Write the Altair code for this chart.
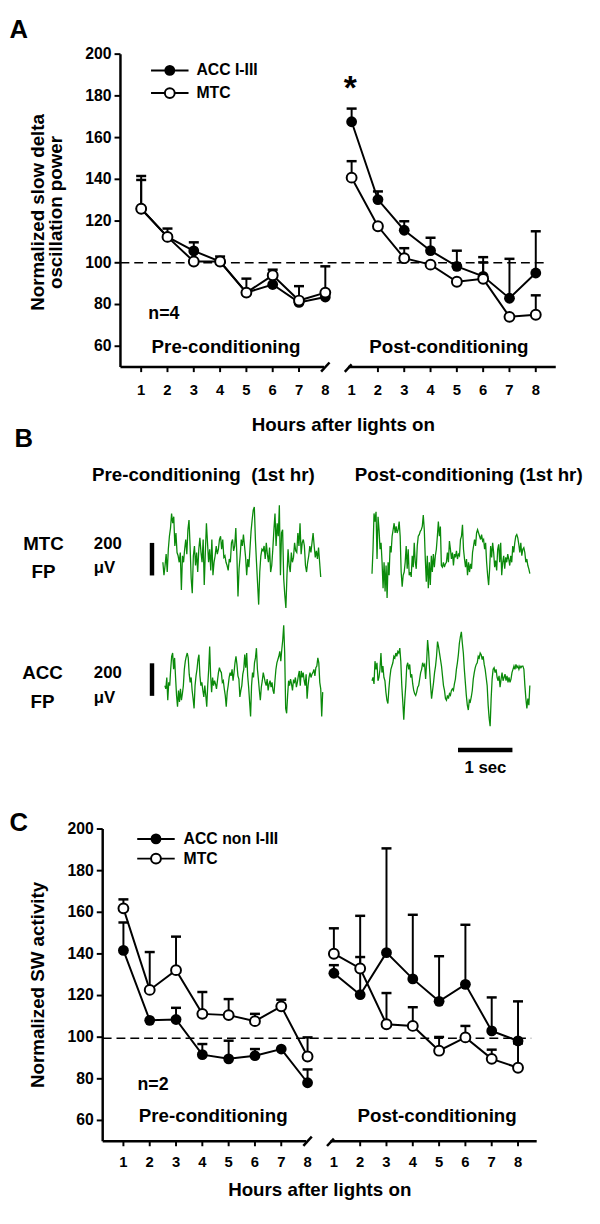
import altair as alt
import pandas as pd

# ---------------- data ----------------
HOURS = [1, 2, 3, 4, 5, 6, 7, 8]
Y_TICKS = [60, 80, 100, 120, 140, 160, 180, 200]
BASELINE = 100

# Panel A: normalized slow delta oscillation power (mean, upper error end)
A_ACC_PRE = [125.9, 112.4, 105.7, 100.6, 85.7, 89.6, 81.0, 83.6]
A_MTC_PRE = [125.9, 112.4, 100.6, 100.6, 85.7, 94.0, 81.9, 85.7]
A_ACC_POST = [167.6, 130.3, 115.6, 105.8, 98.3, 93.5, 83.0, 95.1]
A_MTC_POST = [140.8, 117.5, 102.2, 99.1, 90.9, 92.3, 74.1, 75.1]
A_ACC_PRE_TOP = [141.6, 116.4, 109.8, None, 92.4, None, 88.8, None]
A_MTC_PRE_TOP = [139.7, None, None, 103.0, None, 96.7, None, 98.3]
A_ACC_POST_TOP = [173.9, 134.2, 119.9, 112.0, 105.8, 102.7, 101.9, 115.1]
A_MTC_POST_TOP = [148.7, None, 107.0, None, None, 100.2, None, 84.4]

# Panel C: normalized SW activity
C_ACC_PRE = [141.7, 108.1, 108.5, 91.6, 89.6, 91.1, 94.3, 78.1]
C_MTC_PRE = [161.9, 122.7, 132.2, 111.2, 110.6, 107.7, 114.8, 90.7]
C_ACC_POST = [130.7, 120.4, 140.6, 128.0, 117.2, 125.4, 103.0, 98.2]
C_MTC_POST = [140.1, 133.0, 106.2, 105.4, 93.5, 99.9, 89.6, 85.3]
C_ACC_PRE_TOP = [155.1, None, 114.1, 96.7, 98.3, 94.3, None, 84.5]
C_MTC_PRE_TOP = [166.2, 140.9, 148.3, 121.7, 118.3, 111.2, 118.0, 99.9]
C_ACC_POST_TOP = [134.6, 138.5, 190.7, 158.8, 138.9, 154.0, 119.1, 117.2]
C_MTC_POST_TOP = [152.3, 158.3, 121.2, 114.4, 100.1, 105.4, 94.0, 97.0]

# Panel B: field potential traces (microvolts, equally spaced samples over ~2.9 s)
B_MTC_PRE = [-40, -120, -60, 10, -100, 40, 120, 170, 260, 200, 240, 60, 140, 20, 0, -40, 20, -210, 0, -40,
             40, 100, 10, 160, 220, 60, -140, -230, 0, 60, -60, 20, -100, 40, 110, 20, -40, 100, -180, 20,
             200, 80, -40, 40, -90, 100, -120, -40, 0, 60, 10, 40, 100, 120, 40, 100, -10, 0, -40, -60,
             -90, -20, -40, 80, 100, 30, 60, 170, 0, -250, -80, 0, 100, 60, 130, 60, -10, -120, -20, -70,
             40, 150, 220, 280, 300, 100, -40, -170, -300, -100, 0, 40, 30, 60, -20, 80, 10, -40, 50, -100,
             -60, 40, 160, 260, 60, 200, 120, 310, -120, 140, 160, -140, -240, -320, -120, 40, -60, -100, 20, -40,
             -10, 80, 30, 20, 140, 60, 200, 10, 80, 100, 60, -60, -100, -40, 0, 60, 20, 80, 140, 60,
             -10, 30, -20, 50, -40, -130]
B_MTC_POST = [-110, 40, 260, 210, 270, -20, 240, 160, 40, 80, -40, -200, -40, -220, -60, -260, -40, -120, 60, 20,
              120, 160, 200, 140, 180, 140, 160, 210, 120, -100, -190, -120, -100, -40, 60, -80, 40, -120, -100, -130,
              0, -70, 80, -40, -80, 60, 120, 130, 150, 160, 180, 250, 160, -20, -160, 0, -200, -40, -180, 0,
              -100, 10, -70, 0, 40, 120, 210, 120, 180, -60, -70, -40, -70, -50, -40, 20, -40, 90, 40, -20,
              20, -60, 10, -10, 30, -20, 10, 0, 100, 120, 190, 40, -20, -70, -20, -120, -40, -100, -50, -80,
              20, 60, 100, 60, 140, 160, 140, 120, 100, 130, 90, 100, 40, 80, -40, -120, -180, -80, 60, -10,
              80, 20, -70, -30, -90, 40, 70, -40, 80, -120, -40, 0, -80, -10, -40, 10, -20, -60, 0, -40,
              60, 20, 80, 120, 130, 110, 70, 20, 80, 0, 40, 50, 20, -40, -20, -60, -80, -110]
B_ACC_PRE = [-40, -60, 10, -130, -20, -40, 60, 140, 160, 60, 130, 10, -100, -170, -70, -140, -60, -130, -90, -40,
             60, 110, 140, 160, 130, 30, -20, 10, -70, -120, -180, -40, 20, 60, 120, 150, 20, -40, -20, -70,
             -110, -40, -100, -170, -40, 60, 200, 20, -80, 10, -40, -10, -30, -60, -10, 40, 70, 50, 40, -20,
             -10, -60, -100, -170, -80, -40, 10, 40, 20, 60, -10, 40, 100, 140, 90, 20, 0, -110, -70, -40,
             30, 60, 150, 70, 160, 20, -50, -140, -230, -40, 40, 10, 100, 130, 190, 60, 0, -70, -130, -50,
             -10, 40, 10, -20, -40, 0, -70, -30, -10, -50, -20, -70, -90, -10, 60, 100, 120, 140, 170, 110,
             180, 240, 330, 160, -180, -210, -100, -10, -40, 0, -30, -70, -10, -20, 10, -50, -20, 20, 50, -40,
             50, 10, 40, -10, -40, 30, -120, -40, 10, 40, 10, 30, 40, 60, 20, 70, 80, 130, 100, -20,
             -60, -230, -80]
B_ACC_POST = [-10, 10, -30, 110, 60, 100, -10, 10, 60, 160, 40, 80, 10, -10, -80, -130, -150, -60, 10, 60,
              80, 100, 140, 130, 160, 140, 170, 160, 190, 110, -40, -140, -250, -130, -40, 80, 100, 60, 90, 10,
              30, -30, -70, -90, -100, -80, -50, -40, 0, 40, 60, 100, 80, 90, 0, 100, 240, 170, 60, -40,
              -120, -70, -20, 40, 80, 140, 230, 200, 160, 120, 80, 20, -40, -70, -120, -130, -100, -120, -90, -100,
              -70, -60, -70, -30, 0, 60, 100, 150, 220, 260, 290, 220, 160, 60, -20, -100, -160, -190, -130, -140,
              -110, -70, 0, 40, 70, 90, 100, 140, 130, 160, 150, 120, 140, 90, 60, 10, -40, -160, -240, -290,
              -120, 0, 60, 70, 40, 60, 10, -10, 20, -50, 0, 40, -10, 10, 30, -10, 20, -20, 10, -20,
              0, 40, 60, 80, 60, 90, 70, 80, 60, 80, 70, 80, 80, 60, -40, -120, -180, -120, -160, -40]
TRACE_SECONDS = 2.9
SCALE_UV = 200
SCALE_SEC = 1

# ---------------- layout helpers ----------------
FONT = "Liberation Sans"
OFF = 8  # page margin


def px(v):
    return v - OFF


def lin(domain, p0, p1):
    return alt.Scale(domain=domain, range=[px(p0), px(p1)], nice=False, zero=False)


def label(text, x, y, size=19, align="center", baseline="middle", angle=0, weight="bold"):
    return alt.Chart(pd.DataFrame({"t": [text]})).mark_text(
        font=FONT, fontSize=size, fontWeight=weight, align=align, baseline=baseline,
        angle=angle, color="black"
    ).encode(x=alt.value(px(x)), y=alt.value(px(y)), text="t:N")


def legend_item(x0, x1, y, filled, text, tx):
    d = pd.DataFrame({"t": [text]})
    line = alt.Chart(d).mark_rule(color="black", strokeWidth=2).encode(
        x=alt.value(px(x0)), x2=alt.value(px(x1)), y=alt.value(px(y)))
    if filled:
        pt = alt.Chart(d).mark_circle(size=120, color="black", opacity=1)
    else:
        pt = alt.Chart(d).mark_circle(size=100, fill="white", stroke="black", strokeWidth=2, opacity=1)
    pt = pt.encode(x=alt.value(px((x0 + x1) / 2)), y=alt.value(px(y)))
    txt = label(text, tx, y, size=16, align="left")
    return [line, pt, txt]


def long_table(pre, post, pre_top, post_top):
    rows = []
    n = len(HOURS)
    for i, h in enumerate(HOURS):
        rows.append({"hour": h, "pos": h, "phase": "pre", "value": pre[i], "top": pre_top[i]})
    for i, h in enumerate(HOURS):
        rows.append({"hour": h, "pos": h + n, "phase": "post", "value": post[i], "top": post_top[i]})
    return pd.DataFrame(rows)


def panel(XS, YS, acc, mtc, dash_y, dash_end, axis_end, label_dy):
    def X(f):
        return alt.X(f, type="quantitative", scale=XS, axis=None)

    def Y(f):
        return alt.Y(f, type="quantitative", scale=YS, axis=None)

    ax0 = 0.2125
    lo = 50
    layers = []
    # axis frame with break marks
    frame = pd.DataFrame({
        "x": [ax0, ax0, 7.84, 8.87, 8.74],
        "y": [lo, lo, lo - 2.2, lo, lo - 2.3],
        "x2": [ax0, 7.95, 8.16, axis_end, 9.0],
        "y2": [max(Y_TICKS), lo, lo + 2.2, lo, lo + 1.3],
    })
    layers.append(alt.Chart(frame).mark_rule(color="black", strokeWidth=2.5).encode(
        x=X("x"), y=Y("y"), x2=alt.X2("x2"), y2=alt.Y2("y2")))
    # y ticks + labels
    yt = pd.DataFrame({"y": Y_TICKS, "x": ax0, "x2": ax0 - 0.225})
    layers.append(alt.Chart(yt).mark_rule(color="black", strokeWidth=2).encode(
        x=X("x"), x2=alt.X2("x2"), y=Y("y")))
    layers.append(alt.Chart(yt).mark_text(font=FONT, fontSize=16, fontWeight="bold", align="right",
                                          baseline="middle", dx=-9, color="black").encode(
        x=X("x"), y=Y("y"), text=alt.Text("y:Q", format="d")))
    # x ticks + labels
    n = len(HOURS)
    xt = pd.DataFrame({"pos": list(range(1, 2 * n + 1)), "hour": [str(h) for h in HOURS + HOURS]})
    xt["y"] = lo
    xt["y2"] = lo - 2.4
    layers.append(alt.Chart(xt[~xt["pos"].isin([n, n + 1])]).mark_rule(color="black", strokeWidth=2).encode(
        x=X("pos"), y=Y("y"), y2=alt.Y2("y2")))
    layers.append(alt.Chart(xt).mark_text(font=FONT, fontSize=15, fontWeight="bold", baseline="middle",
                                          dy=label_dy, color="black").encode(
        x=X("pos"), y=Y("y"), text="hour:N"))
    # dashed baseline
    dd = pd.DataFrame({"x": [ax0], "x2": [dash_end], "y": [dash_y]})
    layers.append(alt.Chart(dd).mark_rule(color="black", strokeWidth=1.5, strokeDash=[9, 5]).encode(
        x=X("x"), x2=alt.X2("x2"), y=Y("y")))
    # error bars
    for df in (acc, mtc):
        e = df.dropna(subset=["top"]).copy()
        e["lo"] = e["pos"] - 0.19
        e["hi"] = e["pos"] + 0.19
        layers.append(alt.Chart(e).mark_rule(color="black", strokeWidth=2).encode(
            x=X("pos"), y=Y("value"), y2=alt.Y2("top")))
        layers.append(alt.Chart(e).mark_rule(color="black", strokeWidth=2.5).encode(
            x=X("lo"), x2=alt.X2("hi"), y=Y("top")))
    # lines
    for df in (acc, mtc):
        layers.append(alt.Chart(df).mark_line(color="black", strokeWidth=2).encode(
            x=X("pos"), y=Y("value"), detail="phase:N"))
    # points
    layers.append(alt.Chart(acc).mark_circle(size=120, color="black", opacity=1).encode(
        x=X("pos"), y=Y("value")))
    layers.append(alt.Chart(mtc).mark_circle(size=100, fill="white", stroke="black", strokeWidth=2,
                                             opacity=1).encode(x=X("pos"), y=Y("value")))
    return layers


layers = []

# ---------------- Panel A ----------------
XA = lin([0, 17], 116.33, 569.67)
YA = lin([50, 200], 363.75, 46.5)
a_acc = long_table(A_ACC_PRE, A_ACC_POST, A_ACC_PRE_TOP, A_ACC_POST_TOP)
a_mtc = long_table(A_MTC_PRE, A_MTC_POST, A_MTC_PRE_TOP, A_MTC_POST_TOP)
layers += panel(XA, YA, a_acc, a_mtc, BASELINE, 16.36, 16.76, 23)
layers += [
    label("A", 19, 22, 26),
    label("Normalized slow delta", 38, 207, 19, angle=270),
    label("oscillation power", 57, 207, 19, angle=270),
    label("Hours after lights on", 348, 423, 19),
    label("Pre-conditioning", 229, 343, 19),
    label("Post-conditioning", 455, 343, 19),
    label("n=4", 166, 310, 18),
    label("*", 355, 82, 34),
]
layers += legend_item(153, 191, 63, True, "ACC I-III", 199)
layers += legend_item(153, 191, 86, False, "MTC", 199)

# ---------------- Panel B ----------------
def trace(values, XS, YS):
    n = len(values)
    d = pd.DataFrame({"t": [i * TRACE_SECONDS / (n - 1) for i in range(n)], "uv": values})
    return alt.Chart(d).mark_line(color="#0a8a0a", strokeWidth=1.3).encode(
        x=alt.X("t:Q", scale=XS, axis=None), y=alt.Y("uv:Q", scale=YS, axis=None))


XB_MTC_PRE = lin([0, TRACE_SECONDS], 165, 325)
XB_ACC_PRE = lin([0, TRACE_SECONDS], 167, 327)
XB_POST = lin([0, TRACE_SECONDS], 377, 537)
YB_MTC = lin([-100, 100], 555 + 16.5, 555 - 16.5)
YB_ACC = lin([-100, 100], 680 + 16.5, 680 - 16.5)

layers += [
    trace(B_MTC_PRE, XB_MTC_PRE, YB_MTC),
    trace(B_MTC_POST, XB_POST, YB_MTC),
    trace(B_ACC_PRE, XB_ACC_PRE, YB_ACC),
    trace(B_ACC_POST, XB_POST, YB_ACC),
]


def vbar(t, lo, XS, YS):
    d = pd.DataFrame({"t": [t], "lo": [lo], "hi": [lo + SCALE_UV]})
    return alt.Chart(d).mark_rule(color="black", strokeWidth=4.5, strokeCap="butt").encode(
        x=alt.X("t:Q", scale=XS, axis=None), y=alt.Y("lo:Q", scale=YS, axis=None), y2=alt.Y2("hi"))


layers.append(vbar(-0.2, -121, XB_MTC_PRE, YB_MTC))
layers.append(vbar(-0.236, -103, XB_ACC_PRE, YB_ACC))
tb = pd.DataFrame({"t0": [1.58], "t1": [1.58 + SCALE_SEC], "uv": [-436]})
layers.append(alt.Chart(tb).mark_rule(color="black", strokeWidth=4.5, strokeCap="butt").encode(
    x=alt.X("t0:Q", scale=XB_POST, axis=None), x2=alt.X2("t1"),
    y=alt.Y("uv:Q", scale=YB_ACC, axis=None)))

layers += [
    label("B", 24, 437, 26),
    label("Pre-conditioning\u00a0 (1st hr)", 206, 473, 19),
    label("Post-conditioning (1st hr)", 475, 473, 19),
    label("MTC", 44, 543, 19),
    label("FP", 44, 572, 19),
    label("200", 95, 543, 17, align="left"),
    label("\u03bcV", 95, 567, 17, align="left"),
    label("ACC", 43, 674, 19),
    label("FP", 43, 703, 19),
    label("200", 95, 674, 17, align="left"),
    label("\u03bcV", 95, 699, 17, align="left"),
    label("1 sec", 492, 770, 17),
]

# ---------------- Panel C ----------------
XC = lin([0, 17], 98.33, 551.67)
YC = lin([50, 200], 1148.5, 832.0)
c_acc = long_table(C_ACC_PRE, C_ACC_POST, C_ACC_PRE_TOP, C_ACC_POST_TOP)
c_mtc = long_table(C_MTC_PRE, C_MTC_POST, C_MTC_PRE_TOP, C_MTC_POST_TOP)
layers += panel(XC, YC, c_acc, c_mtc, 99.5, 16.5, 16.71, 21.5)
layers += [
    label("C", 19, 826, 26),
    label("Normalized SW activity", 38, 990, 19, angle=270),
    label("Hours after lights on", 324, 1198, 19),
    label("Pre-conditioning", 216, 1123, 19),
    label("Post-conditioning", 443, 1123, 19),
    label("n=2", 155, 1092, 18),
]
layers += legend_item(139, 177, 842, True, "ACC non I-III", 186)
layers += legend_item(139, 177, 862, False, "MTC", 186)

chart = alt.layer(*layers).resolve_scale(x="independent", y="independent").properties(
    width=592, height=1208, padding=0, autosize=alt.AutoSizeParams(type="none")
).configure_view(stroke=None)

chart.save("out.html", embed_options={"renderer": "svg", "actions": False})
